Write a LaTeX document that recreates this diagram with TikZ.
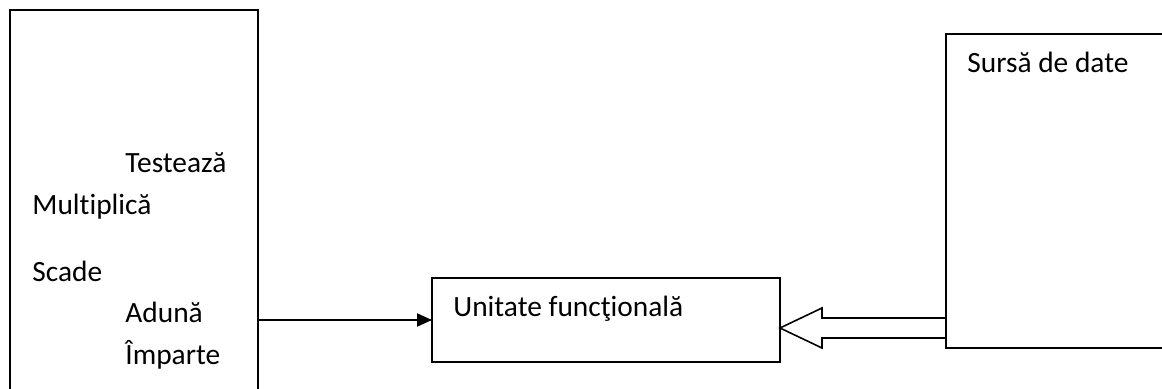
\documentclass[tikz,border=0pt]{standalone}
\usepackage{fontspec}
\setmainfont{Carlito}[Ligatures={NoCommon, NoContextual}]
\usetikzlibrary{positioning, arrows.meta, calc}

\begin{document}
\begin{tikzpicture}[
		x=0.5pt, y=-0.5pt,
		font=\fontsize{14.7}{17}\selectfont,
		% Styles for the blocks
		block/.style={
			draw=black, line width=1pt, fill=white, outer sep=0pt, inner sep=0pt,
			anchor=north west
		},
		% Style for the plain labels
		op_label/.style={anchor=base west, inner sep=0pt},
		% Style for the data arrow
		hollow/.style={draw=black, line width=0.8pt, line join=miter}
		]
		
		\useasboundingbox (0,0) rectangle (1162,389);
		\clip (0,0) rectangle (1162,389);
		
		% ==========================================
		% 1. THE LEFT: operations block
		% ==========================================
		\node[block, minimum width=124pt, minimum height=195pt] (ops) at (10,10) {};
		
		\node[op_label] (test) at (125,173) {Testează};
		\node[op_label] (mul) at (32,215) {Multiplică};
		\node[op_label] (sub) at (32,282) {Scade};
		\node[op_label] (add) at (125,323) {Adună};
		\node[op_label] (div) at (125,365) {Împarte};
		
		% ==========================================
		% 2. THE CENTER: functional unit
		% ==========================================
		\node[block, minimum width=174pt, minimum height=42pt] (unit) at (432,278) {};
		\node[op_label] (unitname) at ($(unit.north west)+(21,39)$) {Unitate funcţională};
		
		\draw[line width=1pt, -{Triangle[length=7.5pt, width=6.5pt]}]
		(unit.west -| ops.east) -- (unit.west);
		
		% ==========================================
		% 3. THE RIGHT: data source
		% ==========================================
		\node[block, minimum width=115pt, minimum height=157pt] (src) at (946,34) {};
		\node[op_label] (srcname) at ($(src.north west)+(21,39)$) {Sursă de date};
		
		% Hollow arrow for the data
		\coordinate (tip) at ($(unit.east)+(0,8)$);
		\draw[hollow] ($(tip -| src.west)+(0,-10)$) -- ++(-124,0) -- ++(0,-10) -- (tip)
		-- ++(42,20) -- ++(0,-10) -- ++(124,0);
		
	\end{tikzpicture}
\end{document}
